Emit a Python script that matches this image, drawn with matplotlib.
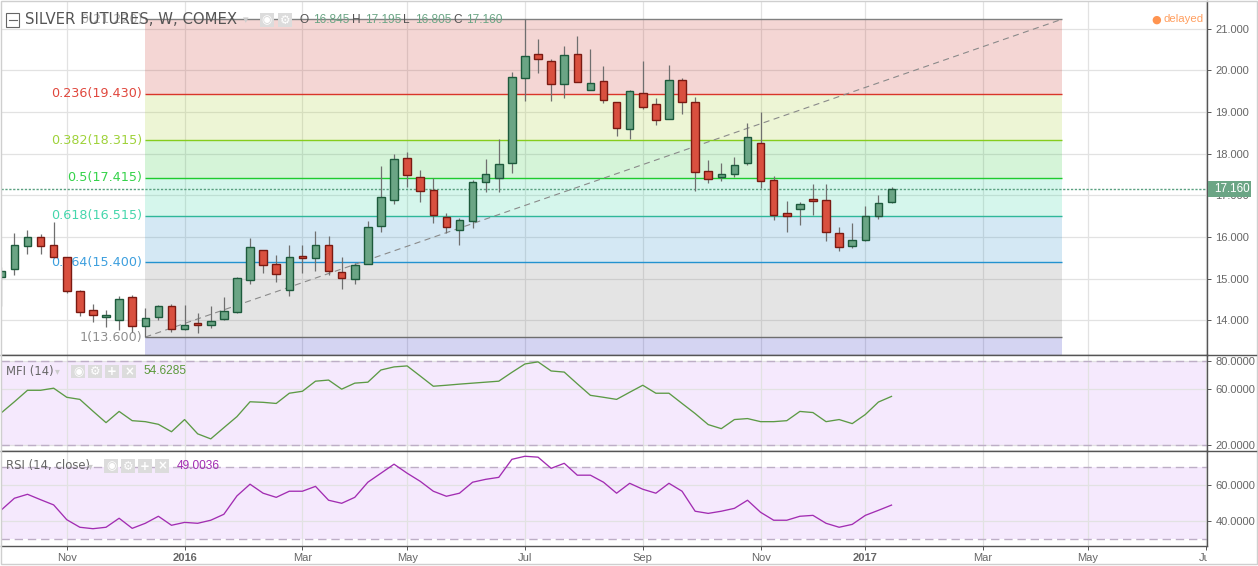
import matplotlib
matplotlib.use('Agg')
import matplotlib.pyplot as plt
from matplotlib.patches import Rectangle
from matplotlib.lines import Line2D
from matplotlib.transforms import Bbox
import numpy as np

W, H = 1258, 566

# weekly candles
opens = [15.03, 15.23, 15.78, 15.99, 15.82, 15.51, 14.70, 14.24, 14.09, 14.00, 14.55, 13.86, 14.07, 14.34, 13.79,
         13.93, 13.88, 14.03, 14.21, 14.96, 15.68, 15.35, 14.72, 15.54, 15.49, 15.80, 15.15, 14.99, 15.35, 16.26,
         16.88, 17.89, 17.43, 17.12, 16.47, 16.17, 16.38, 17.31, 17.42, 17.77, 19.81, 20.38, 20.21, 19.66, 20.38,
         19.52, 19.73, 19.23, 18.58, 19.45, 19.18, 18.82, 19.76, 19.23, 17.58, 17.43, 17.50, 17.77, 18.25, 17.36,
         16.57, 16.66, 16.90, 16.88, 16.09, 15.78, 15.94, 16.50, 16.845]
closes = [15.19, 15.80, 15.99, 15.78, 15.51, 14.70, 14.19, 14.12, 14.12, 14.51, 13.86, 14.05, 14.34, 13.79, 13.88,
          13.88, 13.98, 14.22, 15.01, 15.75, 15.32, 15.11, 15.51, 15.49, 15.80, 15.18, 15.01, 15.32, 16.23, 16.95,
          17.86, 17.48, 17.10, 16.52, 16.23, 16.40, 17.31, 17.50, 17.74, 19.83, 20.33, 20.26, 19.66, 20.36, 19.71,
          19.69, 19.28, 18.61, 19.49, 19.11, 18.80, 19.76, 19.23, 17.55, 17.38, 17.50, 17.72, 18.39, 17.34, 16.52,
          16.50, 16.78, 16.87, 16.11, 15.75, 15.92, 16.50, 16.81, 17.16]
highs = [15.27, 16.09, 16.17, 16.07, 16.36, 15.51, 14.73, 14.39, 14.25, 14.58, 14.61, 14.30, 14.36, 14.39, 14.36,
         14.18, 14.35, 14.56, 15.04, 15.98, 15.70, 15.57, 15.81, 15.81, 16.14, 16.02, 15.52, 15.38, 16.38, 17.70,
         17.99, 18.04, 17.61, 17.41, 16.57, 16.45, 17.37, 17.87, 18.34, 19.96, 21.22, 20.75, 20.27, 20.58, 20.82,
         20.51, 20.10, 19.23, 19.52, 20.22, 19.33, 20.12, 19.81, 19.35, 17.85, 17.77, 17.92, 18.73, 19.00, 17.46,
         16.86, 16.84, 17.27, 17.27, 16.24, 16.34, 16.74, 17.01, 17.195]
lows = [14.35, 15.09, 15.59, 15.59, 15.51, 14.66, 14.11, 13.97, 13.85, 13.77, 13.72, 13.60, 14.01, 13.72, 13.78,
        13.70, 13.82, 14.01, 14.18, 14.87, 15.14, 14.92, 14.58, 15.14, 15.18, 15.10, 14.75, 14.87, 15.35, 16.12,
        16.79, 17.21, 16.85, 16.34, 16.10, 15.81, 16.22, 17.09, 17.09, 17.54, 19.27, 19.94, 19.27, 19.34, 19.71,
        19.52, 19.22, 18.42, 18.35, 19.08, 18.69, 18.82, 18.95, 17.11, 17.30, 17.35, 17.45, 17.73, 17.17, 16.41,
        16.13, 16.29, 16.53, 15.91, 15.66, 15.74, 15.90, 16.43, 16.805]

mfi = [42.9, 50.8, 59.0, 59.0, 60.5, 54.0, 52.5, 44.1, 35.9, 43.9, 37.3, 36.6, 34.7, 29.4, 38.1, 27.9, 24.3, 32.3,
       40.2, 50.8, 50.4, 49.6, 56.9, 58.3, 65.5, 66.3, 59.8, 64.1, 64.8, 73.5, 75.7, 76.4, 69.2, 61.9, 62.6, 63.4,
       64.1, 64.8, 65.5, 71.8, 77.8, 79.3, 72.8, 72.0, 63.6, 55.4, 54.0, 52.5, 57.6, 62.6, 56.9, 56.9, 49.6, 42.4,
       34.5, 31.6, 38.1, 38.8, 36.6, 36.6, 37.3, 43.9, 43.1, 36.6, 38.1, 35.2, 41.7, 50.6, 54.63]
rsi = [46.3, 52.8, 55.0, 52.0, 49.1, 40.9, 36.7, 35.9, 36.7, 41.7, 36.1, 38.9, 42.8, 37.8, 39.4, 38.9, 40.6, 43.9,
       54.1, 60.6, 55.6, 53.3, 56.7, 56.7, 59.4, 51.7, 50.0, 53.3, 61.7, 66.7, 71.7, 66.7, 62.2, 56.7, 53.9, 55.6,
       61.7, 63.3, 64.4, 74.4, 76.1, 75.6, 69.4, 72.2, 65.6, 65.6, 61.7, 55.6, 61.1, 57.8, 55.6, 61.1, 56.7, 45.6,
       44.4, 45.6, 47.2, 51.7, 45.0, 40.6, 40.6, 42.8, 43.3, 38.9, 36.7, 38.3, 43.3, 46.1, 49.0]

# fibonacci retracement drawn from bar 11 to bar 81
fib_ratios = ['0', '0.236', '0.382', '0.5', '0.618', '0.764', '1']
fib_prices = [21.22, 19.43, 18.315, 17.415, 16.515, 15.4, 13.6]
fib_colors = ['#808080', '#d9352a', '#86cc1e', '#1ecb2e', '#2fb79a', '#2392cf', '#6e6e6e']
fib_text_colors = ['#9a9a9a', '#e0473d', '#9fd23a', '#35d34a', '#45d6ac', '#3d9fde', '#8f8f8f']
fib_fills = ['#c8362c', '#a9cf2e', '#2ec83e', '#2fd6a0', '#2a8ec8', '#7a7a7a', '#2a2ac0']

month_pos = [5, 14, 23, 31, 40, 49, 58, 66, 75, 83, 92]
month_names = ['Nov', '2016', 'Mar', 'May', 'Jul', 'Sep', 'Nov', '2017', 'Mar', 'May', 'Jul']

price_ticks = [14, 15, 16, 17, 18, 19, 20, 21]
mfi_ticks = [20, 60, 80]
rsi_ticks = [40, 60]

GREEN = '#6ba585'
GREEN_EDGE = '#1d5a3c'
RED = '#d9503f'
RED_EDGE = '#7a1a12'
GRID = '#e2e2e2'
AXIS = '#555555'
TICK_TEXT = '#666666'
PANEL = '#f4e6fd'


def px_axes(fig, left, top, right, bottom):
    return fig.add_axes([left / W, 1 - bottom / H, (right - left) / W, (bottom - top) / H])


def fig_rect(fig, x0, y0, x1, y1, **kw):
    fig.add_artist(Rectangle((x0 / W, 1 - y1 / H), (x1 - x0) / W, (y1 - y0) / H,
                             transform=fig.transFigure, **kw))


def fig_text(fig, x, y, s, **kw):
    kw.setdefault('va', 'center')
    kw.setdefault('family', 'Liberation Sans')
    return fig.text(x / W, 1 - y / H, s, **kw)


def icon_boxes(fig, xs, glyphs, y0, y1, size):
    for x, g in zip(xs, glyphs):
        fig_rect(fig, x, y0, x + size, y1, facecolor='#dcdcdc', edgecolor='none', zorder=8)
        fig_text(fig, x + size / 2, (y0 + y1) / 2, g, color='white', ha='center', fontsize=8.5,
                 family='DejaVu Sans', fontweight='bold', zorder=9)


fig = plt.figure(figsize=(W / 100, H / 100), dpi=100, facecolor='white')

ax = px_axes(fig, 1, 1, 1207, 355)
ax_mfi = px_axes(fig, 1, 355, 1207, 450.5)
ax_rsi = px_axes(fig, 1, 450.5, 1207, 546)

xlim = (-0.023, 92.1)
for a in (ax, ax_mfi, ax_rsi):
    a.set_xlim(xlim)
    a.set_xticks(month_pos)
    a.grid(True, color=GRID, linewidth=0.9, zorder=0)
    a.set_axisbelow(True)
    a.yaxis.tick_right()
    a.tick_params(axis='y', length=3, width=0.7, color=AXIS, labelcolor=TICK_TEXT, labelsize=8.0, pad=3)
    a.tick_params(axis='x', length=0)
    a.spines['left'].set_visible(False)
    for s in ('top', 'bottom', 'right'):
        a.spines[s].set_color(AXIS)
        a.spines[s].set_linewidth(1.0)
    a.spines['top'].set_visible(a is not ax)
    a.set_facecolor('white')

# price panel
ax.set_ylim(13.17, 21.66)
ax.set_yticks(price_ticks)
ax.set_yticklabels(['%.3f' % p for p in price_ticks], family='Liberation Sans')
ax.tick_params(axis='x', labelbottom=False)

fib_bottoms = fib_prices[1:] + [ax.get_ylim()[0]]
for top, bot, col in zip(fib_prices, fib_bottoms, fib_fills):
    ax.fill_between([11, 81], bot, top, color=col, alpha=0.2, linewidth=0, zorder=1)
for name, price, col, tcol in zip(fib_ratios, fib_prices, fib_colors, fib_text_colors):
    ax.plot([11, 81], [price, price], color=col, lw=1.0, zorder=2, solid_capstyle='butt')
    ax.annotate('%s(%.3f)' % (name, price), xy=(11, price), xytext=(-2.2, 0), textcoords='offset points',
                ha='right', va='center', color=tcol, fontsize=9.2, zorder=3,
                alpha=0.75 if name == '0' else 1)

ax.plot([11, 81], [fib_prices[-1], fib_prices[0]], color='#8a8a8a', lw=0.8, dashes=(5.5, 4), zorder=4)
ax.axhline(closes[-1], color='#5aa080', lw=1.0, dashes=(1.6, 1.2), zorder=4)

idx = np.arange(len(opens))
ax.vlines(idx, lows, highs, color='#6f6f6f', lw=0.9, zorder=5)
for i, o, c in zip(idx, opens, closes):
    up = c >= o
    ax.bar(i, abs(c - o), bottom=min(o, c), width=0.58, color=GREEN if up else RED,
           edgecolor=GREEN_EDGE if up else RED_EDGE, linewidth=1.0, zorder=6)

# last price flag on the scale
fig_rect(fig, 1207.5, 181, 1251, 197, facecolor=GREEN, edgecolor='none', zorder=8)
fig_text(fig, 1214, 189, '%.3f' % closes[-1], color='white', fontsize=8.4, zorder=9)

# MFI panel
ax_mfi.set_ylim(16, 84.2)
ax_mfi.set_yticks(mfi_ticks)
ax_mfi.set_yticklabels(['%.4f' % v for v in mfi_ticks], family='Liberation Sans')
ax_mfi.tick_params(axis='x', labelbottom=False)
ax_mfi.axhspan(20, 80, color=PANEL, zorder=0.5, alpha=0.85, linewidth=0)
for lvl in (20, 80):
    ax_mfi.axhline(lvl, color='#bdaec6', lw=1.0, dashes=(6, 3.5), zorder=2)
ax_mfi.plot(idx, mfi, color='#5c9a45', lw=0.95, zorder=5)

# RSI panel
ax_rsi.set_ylim(26.3, 79.3)
ax_rsi.set_yticks(rsi_ticks)
ax_rsi.set_yticklabels(['%.4f' % v for v in rsi_ticks], family='Liberation Sans')
ax_rsi.axhspan(30, 70, color=PANEL, zorder=0.5, alpha=0.85, linewidth=0)
for lvl in (30, 70):
    ax_rsi.axhline(lvl, color='#bdaec6', lw=1.0, dashes=(6, 3.5), zorder=2)
ax_rsi.plot(idx, rsi, color='#a22db2', lw=0.95, zorder=5)

for a in (ax, ax_mfi, ax_rsi):
    for label in a.get_yticklabels():
        label.set_family('Liberation Sans')

ax_rsi.set_xticklabels(month_names, family='Liberation Sans', fontsize=8.0, color=TICK_TEXT)
ax_rsi.tick_params(axis='x', length=3, width=0.7, color=AXIS, pad=2)
for label, name in zip(ax_rsi.get_xticklabels(), month_names):
    if name.isdigit():
        label.set_fontweight('bold')
    label.set_clip_box(Bbox([[0, 0], [1207, H]]))
    label.set_clip_on(True)

# separators run on to the right edge of the scale
for y in (355, 450.5):
    fig.add_artist(Line2D([1207 / W, 1256 / W], [1 - y / H, 1 - y / H], color=AXIS, lw=1.0))

# outer frame
fig_rect(fig, 0.5, 0.5, W - 1, H - 2, fill=False, edgecolor='#cfcfcf', linewidth=1.0, zorder=1)

# header
fig_rect(fig, 6.5, 13.5, 18.5, 26.5, facecolor='white', edgecolor='#666666', linewidth=0.8, zorder=8)
fig.add_artist(Line2D([8.5 / W, 16.5 / W], [1 - 20 / H, 1 - 20 / H], color='#666666', lw=0.8, zorder=9))
fig_text(fig, 25, 20, 'SILVER FUTURES, W, COMEX', color='#555555', fontsize=10.7, family='DejaVu Sans', zorder=8)
fig_text(fig, 246, 20, '\u25be', color='#cccccc', ha='center', fontsize=8, family='DejaVu Sans', zorder=8)
icon_boxes(fig, [260, 278], ['\u25c9', '\u2699'], 13, 27, 14)

ohlc_labels = [('O', 299, '16.845', 313), ('H', 352, '17.195', 365), ('L', 403, '16.805', 415), ('C', 453, '17.160', 466)]
for letter, lx, val, vx in ohlc_labels:
    fig_text(fig, lx, 20, letter, color='#555555', fontsize=8.6, zorder=8)
    fig_text(fig, vx, 20, val, color=GREEN, fontsize=8.6, zorder=8)

fig_text(fig, 1156, 19.5, '\u25cf', color='#ff9450', ha='center', fontsize=8, family='DejaVu Sans')
fig_text(fig, 1164, 19.5, 'delayed', color='#ff9f60', fontsize=8.2)

# indicator legends
fig_text(fig, 6, 371, 'MFI (14)', color='#666666', fontsize=8.4, family='DejaVu Sans', zorder=8)
fig_text(fig, 57, 371, '\u25be', color='#cccccc', ha='center', fontsize=7, family='DejaVu Sans', zorder=8)
icon_boxes(fig, [71, 88, 105, 122], ['\u25c9', '\u2699', '+', '\u00d7'], 365, 378, 14)
fig_text(fig, 144, 371, '54.6285', color='#5c9a3c', fontsize=8.6, zorder=8)

fig_text(fig, 6, 466, 'RSI (14, close)', color='#666666', fontsize=8.4, family='DejaVu Sans', zorder=8)
fig_text(fig, 90, 466, '\u25be', color='#cccccc', ha='center', fontsize=7, family='DejaVu Sans', zorder=8)
icon_boxes(fig, [104, 121, 138, 155], ['\u25c9', '\u2699', '+', '\u00d7'], 459, 473, 14)
fig_text(fig, 177, 466, '49.0036', color='#a22db2', fontsize=8.6, zorder=8)

fig.savefig('out.png', dpi=100)
